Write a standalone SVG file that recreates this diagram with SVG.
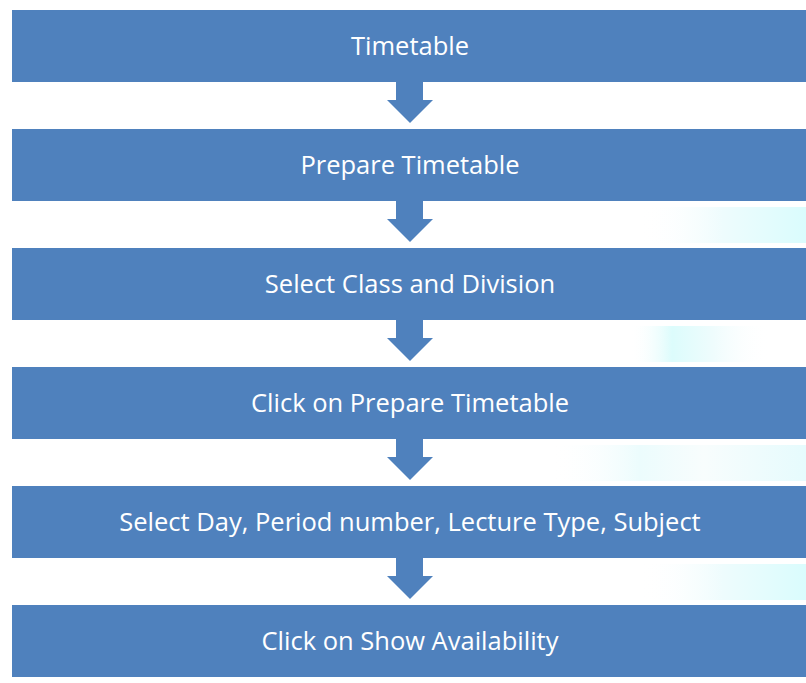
<svg xmlns="http://www.w3.org/2000/svg" width="806" height="683" viewBox="0 0 806 683">
<style>
.box{fill:#4F81BD}
.lbl{fill:#FFFFFF;font-family:"Open Sans","Noto Sans","Liberation Sans",sans-serif;font-size:25.5px;text-anchor:middle}
.arr{fill:#4F81BD}
</style>
<defs>
<linearGradient id="g1" x1="0" y1="0" x2="1" y2="0">
<stop offset="0" stop-color="#ffffff" stop-opacity="0"/>
<stop offset="0.5" stop-color="#eefcfd"/>
<stop offset="1" stop-color="#dafcfd"/>
</linearGradient>
<linearGradient id="g2" x1="0" y1="0" x2="1" y2="0">
<stop offset="0" stop-color="#ffffff" stop-opacity="0"/>
<stop offset="0.3" stop-color="#dcfcfc"/>
<stop offset="0.6" stop-color="#effcfd"/>
<stop offset="1" stop-color="#ffffff" stop-opacity="0"/>
</linearGradient>
<linearGradient id="g3" x1="0" y1="0" x2="1" y2="0">
<stop offset="0" stop-color="#ffffff" stop-opacity="0"/>
<stop offset="0.35" stop-color="#ecfcfd"/>
<stop offset="0.6" stop-color="#f8fdfd"/>
<stop offset="1" stop-color="#e6fbfd"/>
</linearGradient>
</defs>
<rect width="806" height="683" fill="#ffffff"/>
<g id="bg">
<rect x="640" y="207" width="166" height="36" fill="url(#g1)"/>
<rect x="630" y="326" width="140" height="36" fill="url(#g2)"/>
<rect x="550" y="445" width="256" height="36" fill="url(#g3)"/>
<rect x="640" y="564" width="166" height="36" fill="url(#g1)"/>
</g>
<g id="connectors">
<path class="arr" d="M396,82 H423 V100 H433 L410,123 L387,100 H396 Z"/>
<path class="arr" d="M396,201 H423 V219 H433 L410,242 L387,219 H396 Z"/>
<path class="arr" d="M396,320 H423 V338 H433 L410,361 L387,338 H396 Z"/>
<path class="arr" d="M396,439 H423 V457 H433 L410,480 L387,457 H396 Z"/>
<path class="arr" d="M396,558 H423 V576 H433 L410,599 L387,576 H396 Z"/>
</g>
<g id="n1"><rect class="box" x="12" y="10" width="794" height="72"/><text class="lbl" x="410" y="55">Timetable</text></g>
<g id="n2"><rect class="box" x="12" y="129" width="794" height="72"/><text class="lbl" x="410" y="174">Prepare Timetable</text></g>
<g id="n3"><rect class="box" x="12" y="248" width="794" height="72"/><text class="lbl" x="410" y="293">Select Class and Division</text></g>
<g id="n4"><rect class="box" x="12" y="367" width="794" height="72"/><text class="lbl" x="410" y="412">Click on Prepare Timetable</text></g>
<g id="n5"><rect class="box" x="12" y="486" width="794" height="72"/><text class="lbl" x="410" y="531">Select Day, Period number, Lecture Type, Subject</text></g>
<g id="n6"><rect class="box" x="12" y="605" width="794" height="72"/><text class="lbl" x="410" y="650">Click on Show Availability</text></g>
</svg>
